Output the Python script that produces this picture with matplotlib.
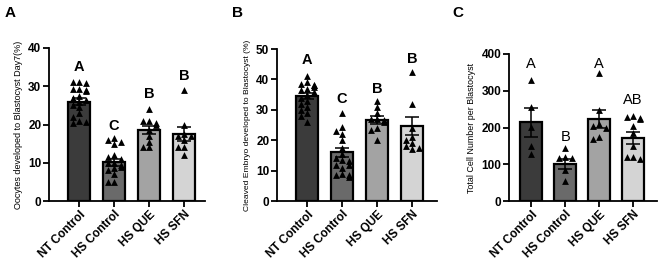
import matplotlib
matplotlib.use("Agg")
import matplotlib.pyplot as plt
import numpy as np

plt.rcParams['font.family'] = ['Liberation Sans', 'DejaVu Sans']

categories = ["NT Control", "HS Control", "HS QUE", "HS SFN"]
bar_colors = ["#3b3b3b", "#6a6a6a", "#a3a3a3", "#d4d4d4"]

# Panel A: Oocytes developed to blastocyst day 7 (%)
a_means = [26.0, 10.1, 18.5, 17.5]
a_sem = [0.8, 0.9, 1.0, 1.8]
a_nt = [31.2, 31.0, 30.8, 29.3, 29.0, 28.8, 29.2, 27.5, 27.0, 26.5, 26.0, 25.0, 24.5, 23.0, 22.0, 21.0, 20.5, 20.7]
a_hs = [16.5, 16.0, 15.5, 15.0, 12.0, 11.5, 11.0, 10.0, 10.0, 9.5, 9.0, 8.5, 8.0, 5.0, 5.0, 7.0]
a_que = [24.0, 21.0, 21.0, 20.5, 20.0, 18.5, 17.0, 15.5, 14.0, 14.0]
a_sfn = [29.0, 20.0, 17.5, 17.0, 17.0, 16.0, 14.0, 14.0, 12.0]
a_letters = ["A", "C", "B", "B"]
a_letter_y = [35.0, 19.7, 28.0, 32.6]

# Panel B: Cleaved embryo developed to blastocyst (%)
b_means = [34.5, 16.0, 26.5, 24.6]
b_sem = [1.0, 1.4, 1.3, 3.0]
b_nt = [41.0, 39.0, 38.5, 38.0, 38.0, 37.5, 37.0, 36.5, 36.0, 35.0, 34.0, 33.0, 32.0, 31.0, 30.0, 29.0, 28.0, 26.0]
b_hs = [29.0, 24.5, 23.0, 22.0, 20.0, 17.5, 15.5, 14.0, 13.5, 13.0, 12.0, 12.0, 11.0, 9.0, 8.5, 8.5, 8.0]
b_que = [33.0, 31.0, 29.0, 27.0, 27.0, 26.5, 26.0, 24.0, 23.5, 20.0]
b_sfn = [42.5, 32.0, 24.0, 21.0, 20.0, 19.0, 18.0, 17.5, 17.0]
b_letters = ["A", "C", "B", "B"]
b_letter_y = [46.5, 33.5, 37.0, 46.8]

# Panel C: Total cell number per blastocyst
c_means = [214, 101, 223, 172]
c_sem = [39, 13, 24, 17]
c_nt = [330, 255, 202, 150, 128]
c_hs = [143, 120, 118, 117, 85, 55]
c_que = [348, 247, 210, 205, 200, 175, 170]
c_sfn = [230, 228, 222, 225, 205, 185, 150, 120, 115, 120]
c_letters = ["A", "B", "A", "AB"]
c_letter_y = [372, 174, 372, 276]

W, H = 658, 261
fig = plt.figure(figsize=(W / 100, H / 100), dpi=100)


def swarm(vals, px_per_unit, step_px, max_off):
    """beeswarm-like horizontal offsets (in pixels) so triangles don't overlap"""
    vals = np.asarray(vals, float)
    order = np.argsort(vals)[::-1]
    placed = []
    offs = np.zeros(len(vals))
    cands = [0]
    k = 1
    while k * step_px <= max_off:
        cands += [-k * step_px, k * step_px]
        k += 1
    for idx in order:
        y = vals[idx] * px_per_unit
        best = cands[-1]
        for c in cands:
            ok = True
            for (py, pxo) in placed:
                if abs(py - y) < 5.5 and abs(pxo - c) < 6.0:
                    ok = False
                    break
            if ok:
                best = c
                break
        offs[idx] = best
        placed.append((y, best))
    return offs


def panel(rect, means, sem, points, letters, letter_y, ymax, step, ylabel,
          xlim, letter_bold, ylab_size):
    ax = fig.add_axes(rect)
    x = np.arange(len(categories))
    ax.bar(x, means, width=0.63, color=bar_colors, edgecolor="black",
           linewidth=1.6, zorder=1)
    ax_h_px = rect[3] * H
    ax_w_px = rect[2] * W
    px_per_unit = ax_h_px / ymax
    px_per_x = ax_w_px / (xlim[1] - xlim[0])
    for i, pts in enumerate(points):
        pts = np.asarray(pts, float)
        offs = swarm(pts, px_per_unit, 6.5, 0.29 * px_per_x)
        ax.scatter(x[i] + offs / px_per_x, pts, marker="^", s=24,
                   color="black", linewidths=0, zorder=3)
    ax.errorbar(x, means, yerr=sem, fmt="none", ecolor="black",
                elinewidth=1.1, capsize=5, capthick=1.1, zorder=4)
    for i, (t, yy) in enumerate(zip(letters, letter_y)):
        ax.text(x[i], yy, t, ha="center", va="center", fontsize=10.5,
                fontweight="bold" if letter_bold else "normal")
    ax.set_ylim(0, ymax)
    ax.set_xlim(*xlim)
    ax.set_yticks(np.arange(0, ymax + 0.01, step))
    ax.set_xticks(x)
    ax.set_xticklabels(categories, rotation=45, ha="right",
                       rotation_mode="anchor", fontsize=8.5,
                       fontweight="bold")
    for lab in ax.get_yticklabels():
        lab.set_fontweight("bold")
        lab.set_fontsize(8.5)
    ax.set_ylabel(ylabel, fontsize=ylab_size, labelpad=4)
    for s in ["top", "right"]:
        ax.spines[s].set_visible(False)
    for s in ["left", "bottom"]:
        ax.spines[s].set_linewidth(1.3)
    ax.tick_params(axis="both", width=1.3, length=4, pad=1.5)
    return ax


bot = 1 - 201 / H
panel([49 / W, bot, (205 - 49) / W, (201 - 48) / H], a_means, a_sem,
      [a_nt, a_hs, a_que, a_sfn], a_letters, a_letter_y, 40, 10,
      "Oocytes developed to Blastocyst Day7(%)", (-0.86, 3.6), True, 6.5)
panel([277 / W, bot, (437 - 277) / W, (201 - 49) / H], b_means, b_sem,
      [b_nt, b_hs, b_que, b_sfn], b_letters, b_letter_y, 50, 10,
      "Cleaved Embryo developed to Blastocyst (%)", (-0.86, 3.71), True, 6.1)
panel([509 / W, bot, (657 - 509) / W, (201 - 54) / H], c_means, c_sem,
      [c_nt, c_hs, c_que, c_sfn], c_letters, c_letter_y, 400, 100,
      "Total Cell Number per Blastocyst", (-0.65, 3.7), False, 6.4)

for lbl, px in [("A", 5), ("B", 232), ("C", 452)]:
    fig.text(px / W, 1 - 13 / H, lbl, fontsize=11, fontweight="bold",
             ha="left", va="center")

fig.savefig("out.png", dpi=100)
